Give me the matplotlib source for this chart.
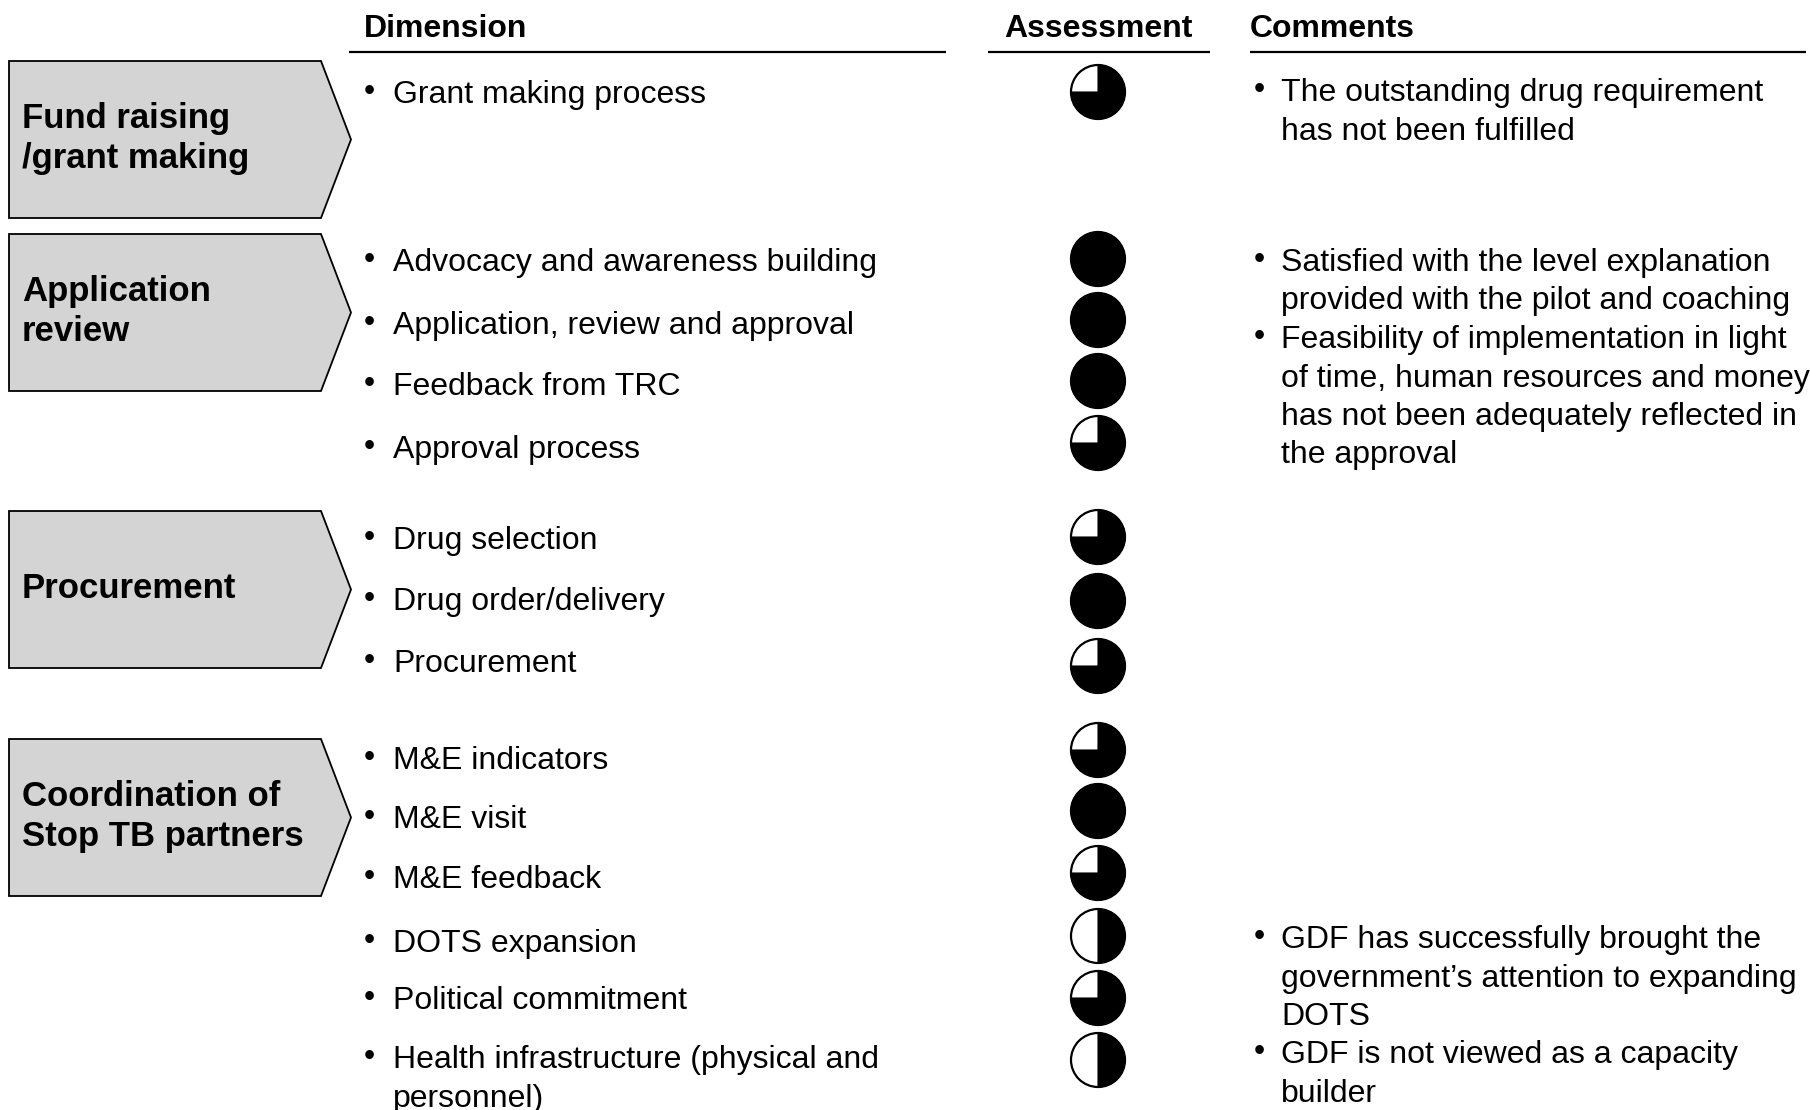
import matplotlib
matplotlib.use("Agg")
import matplotlib.pyplot as plt
from matplotlib.patches import Polygon, Circle, Wedge

plt.rcParams['font.family'] = ['Liberation Sans', 'DejaVu Sans']

# ---- data ----
headers = ["Dimension", "Assessment", "Comments"]
categories = ["Fund raising\n/grant making", "Application\nreview", "Procurement",
              "Coordination of\nStop TB partners"]
dimensions = ["Grant making process",
              "Advocacy and awareness building",
              "Application, review and approval",
              "Feedback from TRC",
              "Approval process",
              "Drug selection",
              "Drug order/delivery",
              "Procurement",
              "M&E indicators",
              "M&E visit",
              "M&E feedback",
              "DOTS expansion",
              "Political commitment",
              "Health infrastructure (physical and\npersonnel)"]
scores = [0.75, 1.0, 1.0, 1.0, 0.75, 0.75, 1.0, 0.75, 0.75, 1.0, 0.75, 0.5, 0.75, 0.5]
comments = [
    ["The outstanding drug requirement\nhas not been fulfilled"],
    ["Satisfied with the level explanation\nprovided with the pilot and coaching",
     "Feasibility of implementation in light\nof time, human resources and money\nhas not been adequately reflected in\nthe approval"],
    ["GDF has successfully brought the\ngovernment\u2019s attention to expanding\nDOTS",
     "GDF is not viewed as a capacity\nbuilder"],
]

# ---- layout (pixel coordinates) ----
W, H = 1810, 1110
row_y = [95, 263, 326, 387, 450, 541, 602, 664, 761, 820, 880, 944, 1001, 1060]
ball_y = [92, 259, 320, 381, 443, 537, 601, 666, 750, 811, 873, 936, 998, 1060]
box_y = [(61, 218), (234, 391), (511, 668), (739, 896)]
comment_y = [93, 263, 940]
line_gap = 38.5
fs = 23

fig = plt.figure(figsize=(W / 100, H / 100), dpi=100)
ax = fig.add_axes([0, 0, 1, 1])
ax.set_xlim(0, W)
ax.set_ylim(H, 0)
ax.set_aspect('equal')
ax.axis('off')

# headers
hdr_x = [364, 1098, 1250]
hdr_ha = ['left', 'center', 'left']
for t, x, ha in zip(headers, hdr_x, hdr_ha):
    ax.text(x, 29, t, fontsize=fs, fontweight='bold', ha=ha, va='center')
for x0, x1 in [(349, 946), (988, 1210), (1250, 1806)]:
    ax.plot([x0, x1], [52, 52], color='black', lw=1.6, solid_capstyle='butt')

# chevrons
for cat, (y0, y1) in zip(categories, box_y):
    xl, xr, xt = 9, 321, 351
    poly = Polygon([(xl, y0), (xr, y0), (xt, (y0 + y1) / 2), (xr, y1), (xl, y1)],
                   closed=True, facecolor='#d4d4d4', edgecolor='black', lw=1.3)
    ax.add_patch(poly)
    ax.text(22, (y0 + y1) / 2 - 1, cat, fontsize=25, fontweight='bold',
            ha='left', va='center', linespacing=1.25)


def draw_lines(x_b, x_t, y, text):
    lines = text.split("\n")
    ax.text(x_b, y - 3, "\u2022", fontsize=fs, ha='left', va='center')
    for i, ln in enumerate(lines):
        ax.text(x_t, y + i * line_gap, ln, fontsize=fs, ha='left', va='center')
    return len(lines)


# dimensions
for d, y in zip(dimensions, row_y):
    draw_lines(364, 393, y, d)

# harvey balls
cx, r = 1098, 27
for s, y in zip(scores, ball_y):
    ax.add_patch(Circle((cx, y), r, facecolor='white', edgecolor='black', lw=1.6))
    if s > 0:
        ax.add_patch(Wedge((cx, y), r, -90, -90 + 360 * s, facecolor='black',
                           edgecolor='black', lw=0.8))

# comments
for block, y in zip(comments, comment_y):
    yy = y
    for c in block:
        n = draw_lines(1254, 1281, yy, c)
        yy += n * line_gap

fig.savefig("out.png", dpi=100)
